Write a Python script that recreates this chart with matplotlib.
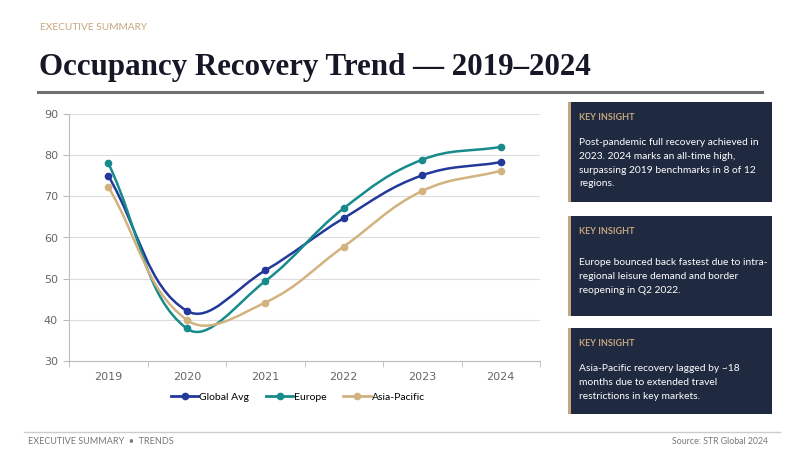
import numpy as np
import matplotlib
matplotlib.use("Agg")
import matplotlib.pyplot as plt
from matplotlib.path import Path
from matplotlib.patches import PathPatch, Rectangle
from matplotlib.lines import Line2D

anos = ["2019", "2020", "2021", "2022", "2023", "2024"]
global_avg = [75.0, 42.2, 52.0, 64.7, 75.1, 78.3]
europe = [78.1, 37.9, 49.4, 67.1, 78.9, 82.0]
asia_pacific = [72.3, 40.0, 44.2, 57.8, 71.3, 76.2]

series = [
    ("Global Avg", global_avg, "#23399a"),
    ("Europe", europe, "#178b8b"),
    ("Asia-Pacific", asia_pacific, "#d2b27f"),
]

insights = [
    "Post-pandemic full recovery achieved in\n2023. 2024 marks an all-time high,\nsurpassing 2019 benchmarks in 8 of 12\nregions.",
    "Europe bounced back fastest due to intra-\nregional leisure demand and border\nreopening in Q2 2022.",
    "Asia-Pacific recovery lagged by ~18\nmonths due to extended travel\nrestrictions in key markets.",
]

W, H = 800, 450
fig = plt.figure(figsize=(8, 4.5), dpi=100)
fig.patch.set_facecolor("white")


def fx(px):
    return px / W


def fy(py):
    return 1 - py / H


# cabeçalho
fig.text(fx(40), fy(27), "EXECUTIVE SUMMARY", color="#c4a77e", fontsize=7.3,
         family="Lato", va="center", ha="left")
fig.text(fx(39), fy(67), "Occupancy Recovery Trend \u2014 2019\u20132024", color="#161827",
         fontsize=22.3, family="Liberation Serif", weight="bold", va="center", ha="left")
fig.add_artist(Line2D([fx(38), fx(762)], [fy(92), fy(92)], color="#707070", lw=2.2))

# gráfico
ax = fig.add_axes([fx(69), fy(361), (540 - 69) / W, (361 - 114) / H])
ax.set_xlim(-0.5, len(anos) - 0.5)
ax.set_ylim(30, 90)
ax.set_yticks(range(30, 91, 10))
ax.set_xticks(range(len(anos)))
ax.set_xticklabels(anos)
ax.set_xticks(np.arange(-0.5, len(anos), 1.0), minor=True)
ax.tick_params(axis="x", which="major", length=0, pad=8, labelsize=8, labelcolor="#666666")
ax.tick_params(axis="x", which="minor", length=4, color="#bbbbbb")
ax.tick_params(axis="y", length=4, color="#bbbbbb", labelsize=8, labelcolor="#666666", pad=4)
ax.grid(axis="y", color="#dddddd", lw=0.8)
ax.set_axisbelow(True)
for s in ["top", "right"]:
    ax.spines[s].set_visible(False)
for s in ["left", "bottom"]:
    ax.spines[s].set_color("#bbbbbb")

# escala aproximada em pixels para as curvas suaves
sx, sy = 78.5, 247 / 60
tension = 0.4


def curva(xs, ys):
    pts = np.column_stack([np.array(xs) * sx, np.array(ys) * sy])
    n = len(pts)
    cps = []
    for i in range(n):
        prev = pts[max(i - 1, 0)]
        cur = pts[i]
        nxt = pts[min(i + 1, n - 1)]
        d01 = np.hypot(*(cur - prev))
        d12 = np.hypot(*(nxt - cur))
        tot = d01 + d12
        s01 = d01 / tot if tot else 0
        s12 = d12 / tot if tot else 0
        cps.append((cur - tension * s01 * (nxt - prev), cur + tension * s12 * (nxt - prev)))
    verts = [pts[0]]
    codes = [Path.MOVETO]
    for i in range(n - 1):
        verts += [cps[i][1], cps[i + 1][0], pts[i + 1]]
        codes += [Path.CURVE4] * 3
    verts = np.array(verts) / [sx, sy]
    return Path(verts, codes)


xs = list(range(len(anos)))
handles = []
for nome, vals, cor in series:
    ax.add_patch(PathPatch(curva(xs, vals), fill=False, edgecolor=cor, lw=1.8, zorder=3))
    ax.plot(xs, vals, "o", color=cor, ms=4.5, zorder=4)
    handles.append(Line2D([], [], color=cor, lw=2.0, marker="o", ms=4.5, label=nome))

leg = fig.legend(handles=handles, loc="center", bbox_to_anchor=(fx(298), fy(397)), ncol=3,
                 frameon=False, handlelength=2.6, handletextpad=0.1,
                 columnspacing=1.6, prop={"family": "Lato", "size": 7.5})

# caixas de destaque
boxes = [(102, 202, 36), (216, 316, 42), (328, 414, 36)]
for (top, bot, off), texto in zip(boxes, insights):
    fig.add_artist(Rectangle((fx(568), fy(bot)), (772 - 568) / W, (bot - top) / H,
                             facecolor="#1f2940", edgecolor="none"))
    fig.add_artist(Rectangle((fx(568), fy(bot)), 3 / W, (bot - top) / H,
                             facecolor="#c4a77e", edgecolor="none"))
    fig.text(fx(579), fy(top + 15), "KEY INSIGHT", color="#c4a77e", fontsize=6.5,
             family="Lato", weight="bold", va="center", ha="left")
    fig.text(fx(579), fy(top + off), texto, color="white", fontsize=7.4, family="Lato",
             va="top", ha="left", linespacing=1.68)

# rodapé
fig.add_artist(Line2D([fx(24), fx(780)], [fy(432), fy(432)], color="#cccccc", lw=1))
fig.text(fx(28), fy(441), "EXECUTIVE SUMMARY  \u2022  TRENDS", color="#777777", fontsize=6.5,
         family="Lato", va="center", ha="left")
fig.text(fx(768), fy(441), "Source: STR Global 2024", color="#777777", fontsize=6.3,
         family="Lato", va="center", ha="right")

fig.savefig("out.png", dpi=100)
